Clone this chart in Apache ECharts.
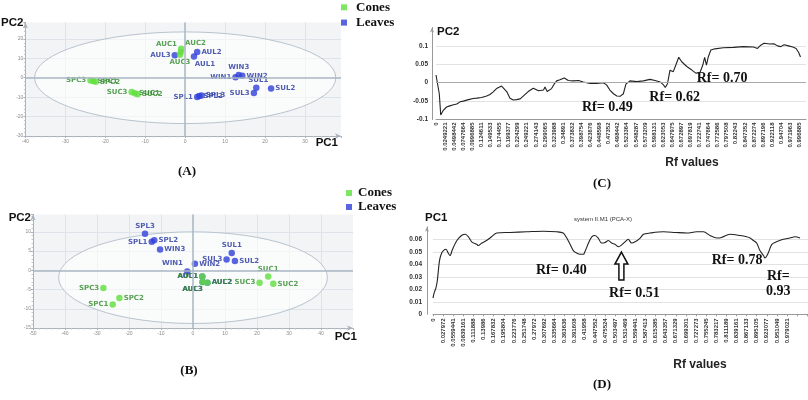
<!DOCTYPE html>
<html><head><meta charset="utf-8">
<script src="https://cdn.jsdelivr.net/npm/echarts@6/dist/echarts.min.js"></script>
<style>html,body{margin:0;padding:0;background:#fff}#c{width:808px;height:400px}</style>
</head><body><div id="c"></div>
<script>
// ---------- Panel A (PCA scores) ----------
const coneNamesA = ['AUC1','AUC2','AUC3','SPC1','SPC2','SPC3','SUC1','SUC2','SUC3'];
const conePC1A = [-1.0,-1.1,-1.3,-23.0,-22.4,-23.7,-12.6,-11.9,-13.4];
const conePC2A = [14.9,13.3,11.8,-1.7,-2.1,-1.4,-8.0,-8.5,-7.3];
const leafNamesA = ['AUL1','AUL2','AUL3','SPL1','SPL2','SPL3','SUL1','SUL2','SUL3','WIN1','WIN2','WIN3'];
const leafPC1A = [2.2,3.0,-2.6,3.0,3.5,4.1,17.8,21.5,17.2,12.6,14.3,13.4];
const leafPC2A = [10.9,13.2,11.6,-9.9,-9.4,-9.2,-5.1,-5.6,-7.9,0.2,1.0,1.4];
const ellipseA = [37.7, 23.6];

// ---------- Panel B (PCA scores) ----------
const coneNamesB = ['AUC1','AUC2','AUC3','SPC1','SPC2','SPC3','SUC1','SUC2','SUC3'];
const conePC1B = [2.9,4.5,3.0,-25.1,-23.0,-28.0,23.5,25.1,20.8];
const conePC2B = [-1.6,-3.2,-3.0,-8.9,-7.2,-4.6,-1.6,-3.5,-3.2];
const leafNamesB = ['AUL1','AUL2','AUL3','SPL1','SPL2','SPL3','SUL1','SUL2','SUL3','WIN1','WIN2','WIN3'];
const leafPC1B = [2.9,4.5,3.0,-12.9,-12.1,-15.0,12.1,13.1,10.5,-1.8,0.6,-10.3];
const leafPC2B = [-1.6,-3.2,-3.0,7.4,7.8,9.5,4.5,2.4,2.8,-0.3,1.7,5.4];
const ellipseB = [42, 11.9];
const ellipseCenterB = [0, -1.9];

// ---------- Panel C (PC2 loadings vs Rf) ----------
const rfC = [0,0.004,0.009,0.013,0.020,0.029,0.038,0.048,0.057,0.066,0.075,0.089,0.102,0.112,0.125,0.139,0.148,0.157,0.166,0.180,0.194,0.203,0.212,0.221,0.231,0.240,0.253,0.267,0.281,0.295,0.299,0.305,0.317,0.324,0.331,0.340,0.352,0.363,0.377,0.391,0.404,0.423,0.441,0.459,0.468,0.477,0.487,0.496,0.505,0.514,0.521,0.532,0.551,0.569,0.587,0.601,0.615,0.624,0.629,0.635,0.642,0.651,0.658,0.666,0.674,0.688,0.701,0.713,0.724,0.732,0.737,0.742,0.747,0.754,0.765,0.788,0.816,0.843,0.871,0.882,0.891,0.900,0.916,0.927,0.937,0.946,0.955,0.967,0.979,0.988,0.995,1.000];
const pc2C = [0.021,0.024,-0.03,-0.088,-0.075,-0.066,-0.063,-0.060,-0.058,-0.052,-0.050,-0.046,-0.043,-0.042,-0.040,-0.036,-0.032,-0.025,-0.016,-0.009,-0.024,-0.042,-0.047,-0.046,-0.044,-0.036,-0.024,-0.015,-0.022,-0.020,-0.012,-0.024,-0.016,-0.004,0.005,0.008,0.013,0.006,0.005,0.006,0.002,-0.002,-0.002,0.000,-0.006,-0.020,-0.030,-0.036,-0.037,-0.030,-0.004,0.005,0.003,0.005,0.009,0.006,0.002,-0.006,-0.013,-0.003,0.034,0.030,0.048,0.069,0.057,0.044,0.035,0.026,0.027,0.048,0.069,0.048,0.070,0.089,0.092,0.095,0.096,0.098,0.097,0.093,0.102,0.107,0.105,0.106,0.100,0.098,0.103,0.100,0.097,0.093,0.082,0.070];
const xTicksC = ['0','0.0249221','0.0498442','0.0747664','0.0996885','0.124611','0.149533','0.174455','0.199377','0.224299','0.249221','0.274143','0.299065','0.323988','0.34891','0.373832','0.398754','0.423676','0.448598','0.47352','0.498442','0.523364','0.548287','0.573209','0.598131','0.623053','0.647975','0.672897','0.697819','0.722741','0.747664','0.772586','0.797508','0.82243','0.847352','0.872274','0.897196','0.922118','0.94704','0.971963','0.996885'];
const notesC = [['Rf= 0.49',0.47,-0.068],['Rf= 0.62',0.655,-0.040],['Rf= 0.70',0.785,0.013]];

// ---------- Panel D (PC1 loadings vs Rf) ----------
const rfD = [0,0.003,0.008,0.012,0.018,0.024,0.029,0.036,0.042,0.047,0.054,0.066,0.079,0.089,0.098,0.107,0.121,0.125,0.135,0.148,0.162,0.176,0.213,0.259,0.305,0.342,0.360,0.370,0.379,0.388,0.397,0.407,0.416,0.420,0.430,0.439,0.448,0.457,0.466,0.476,0.485,0.494,0.503,0.513,0.522,0.531,0.540,0.549,0.559,0.573,0.582,0.600,0.637,0.670,0.702,0.729,0.748,0.766,0.785,0.798,0.821,0.849,0.867,0.877,0.886,0.895,0.904,0.914,0.918,0.927,0.937,0.950,0.969,0.987,1.001,1.015];
const pc1D = [0.013,0.017,0.021,0.027,0.043,0.049,0.051,0.052,0.049,0.047,0.052,0.059,0.063,0.064,0.062,0.058,0.056,0.055,0.057,0.059,0.062,0.065,0.0655,0.066,0.0665,0.066,0.065,0.061,0.056,0.051,0.049,0.048,0.048,0.050,0.057,0.062,0.063,0.061,0.057,0.0575,0.059,0.057,0.056,0.054,0.0555,0.058,0.060,0.057,0.058,0.061,0.064,0.065,0.066,0.0655,0.065,0.066,0.066,0.063,0.061,0.0615,0.064,0.063,0.062,0.061,0.059,0.057,0.051,0.047,0.045,0.049,0.056,0.058,0.060,0.061,0.062,0.061];
const xTicksD = ['0','0.027972','0.0559441','0.0839161','0.111888','0.13986','0.167832','0.195804','0.223776','0.251748','0.27972','0.307692','0.335664','0.363636','0.391608','0.41958','0.447552','0.475524','0.503497','0.531469','0.559441','0.587413','0.615385','0.643357','0.671329','0.699301','0.727273','0.755245','0.783217','0.811189','0.839161','0.867133','0.895105','0.923077','0.951049','0.979021'];
const notesD = [['Rf= 0.40',0.355,0.035],['Rf= 0.51',0.557,0.017],['Rf= 0.78',0.841,0.043],['Rf=\n0.93',0.955,0.024]];
const arrowD = [0.521, 0.0498];

// ---------- styles ----------
const GREEN = '#5fe03c', BLUE = '#3040d8';
const GREEN_TXT = '#2f8a2a', BLUE_TXT = '#2434a0';
const placeA = {AUC1:['left',[0,-5]],AUC2:['right',[0,-9]],AUC3:['bottom',[0,0]],SPC1:['right',[0,0]],SPC2:['right',[0,0]],SPC3:['left',[0,0]],SUC1:['right',[0,0]],SUC2:['right',[0,0]],SUC3:['left',[0,0]],
  AUL1:['bottom',[11,0]],AUL2:['right',[0,0]],AUL3:['left',[0,0]],SPL1:['left',[0,0]],SPL2:['right',[0,0]],SPL3:['right',[0,0]],SUL1:['top',[2,0]],SUL2:['right',[0,0]],SUL3:['left',[0,0]],WIN1:['left',[0,0]],WIN2:['right',[0,0]],WIN3:['top',[0,0]]};
const placeB = {AUC1:['left',[0,0]],AUC2:['right',[0,0]],AUC3:['bottom',[-10,0]],AUL1:['left',[0,0]],AUL2:['right',[0,0]],AUL3:['bottom',[-10,0]],SPC1:['left',[0,0]],SPC2:['right',[0,0]],SPC3:['left',[0,0]],SUC1:['top',[0,0]],SUC2:['right',[0,0]],SUC3:['left',[0,0]],
  SPL1:['left',[0,0]],SPL2:['right',[0,0]],SPL3:['top',[0,0]],SUL1:['top',[0,0]],SUL2:['right',[0,0]],SUL3:['left',[0,0]],WIN1:['left',[0,-8]],WIN2:['right',[0,0]],WIN3:['right',[0,0]]};

function pts(names, xs, ys, place, color) {
  return names.map((n, i) => ({
    name: n, value: [xs[i], ys[i]],
    label: {show: true, formatter: '{b}', position: place[n][0], offset: place[n][1], distance: 1,
      color: color, fontSize: 7, fontWeight: 'bold', fontFamily: 'DejaVu Sans'}
  }));
}
function ellipseSeries(idx, center, axes) {
  return {type: 'custom', xAxisIndex: idx, yAxisIndex: idx, silent: true, z: 1, clip: false,
    data: [center],
    renderItem: (p, api) => {
      const c = api.coord([api.value(0), api.value(1)]);
      const s = api.size([axes[0], axes[1]]);
      const rx = s[0], ry = s[1];
      return {type: 'path', shape: {pathData:
        `M${c[0]-rx} ${c[1]} A${rx} ${ry} 0 1 0 ${c[0]+rx} ${c[1]} A${rx} ${ry} 0 1 0 ${c[0]-rx} ${c[1]} Z`},
        style: {fill: 'rgba(255,255,255,0.6)', stroke: '#b8c4cf', lineWidth: 1}};
    }};
}
const zeroLines = {silent: true, symbol: 'none', label: {show: false},
  lineStyle: {color: '#a9b7c5', width: 1.5, type: 'solid'}, data: [{xAxis: 0}, {yAxis: 0}]};

function scoreX(idx, min, max) {
  return {gridIndex: idx, type: 'value', min, max, interval: 10,
    axisLine: {show: true, onZero: false, lineStyle: {color: '#aab3bd'}, symbol: ['none','arrow'], symbolSize: [4,6]},
    axisTick: {show: true, length: 2, lineStyle: {color: '#aab3bd'}},
    minorTick: {show: true, splitNumber: 5, length: 1.5, lineStyle: {color: '#c0c8d0'}},
    axisLabel: {fontSize: 5, color: '#8a8a8a', margin: 3, showMaxLabel: false},
    splitLine: {show: true, showMaxLine: false, lineStyle: {color: '#dde3e9'}}};
}
function scoreY(idx, min, max, interval, gap) {
  return {gridIndex: idx, type: 'value', min, max, interval,
    name: 'PC2', nameLocation: 'end', nameGap: gap,
    nameTextStyle: {fontFamily: 'Liberation Sans', fontWeight: 'bold', fontSize: 11.5, color: '#111', align: 'right', verticalAlign: 'middle', padding: [0,2,0,0]},
    axisLine: {show: true, onZero: false, lineStyle: {color: '#aab3bd'}, symbol: ['none','arrow'], symbolSize: [4,6]},
    axisTick: {show: true, length: 2, lineStyle: {color: '#aab3bd'}},
    minorTick: {show: true, splitNumber: 5, length: 1.5, lineStyle: {color: '#c0c8d0'}},
    axisLabel: {fontSize: 5, color: '#8a8a8a', margin: 2, showMaxLabel: false},
    splitLine: {show: true, showMaxLine: false, lineStyle: {color: '#dde3e9'}}};
}
function tickFmt(list) {
  const step = Number(list[1]);
  return v => { const i = Math.round(v / step); return (Math.abs(v - i * step) < 1e-6 && list[i] !== undefined) ? list[i] : ''; };
}
const pcName = {fontFamily: 'Liberation Sans', fontWeight: 'bold', fontSize: 11.5, color: '#111'};

const chart = echarts.init(document.getElementById('c'), null, {renderer: 'canvas'});
const option = {
  animation: false,
  backgroundColor: '#fff',
  grid: [
    {left: 25, top: 22.4, width: 316, height: 113.6, show: true, backgroundColor: '#f2f4f6', borderWidth: 0},
    {left: 33, top: 214.5, width: 320, height: 113.6, show: true, backgroundColor: '#f2f4f6', borderWidth: 0},
    {left: 436, top: 27.5, width: 370, height: 92, show: false},
    {left: 433, top: 226.8, width: 375, height: 87.5, show: false}
  ],
  legend: [
    {data: ['Cones','Leaves'], left: 341, top: 0.8, padding: 0, orient: 'vertical', icon: 'rect', itemWidth: 6, itemHeight: 6, itemGap: 2.3,
      textStyle: {fontFamily: 'Liberation Serif', fontWeight: 'bold', fontSize: 13, color: '#111', padding: [0,0,0,4]}},
    {data: ['Cones','Leaves'], left: 346, top: 186.5, padding: 0, orient: 'vertical', icon: 'rect', itemWidth: 6, itemHeight: 6, itemGap: 1,
      textStyle: {fontFamily: 'Liberation Serif', fontWeight: 'bold', fontSize: 13, color: '#111', padding: [0,0,0,1]}}
  ],
  xAxis: [
    Object.assign(scoreX(0, -40, 39), {name: 'PC1', nameLocation: 'end', nameGap: -3,
      nameTextStyle: Object.assign({align: 'right', verticalAlign: 'top', padding: [1,0,0,0]}, pcName)}),
    Object.assign(scoreX(1, -50, 50), {name: 'PC1', nameLocation: 'end', nameGap: 4,
      nameTextStyle: Object.assign({align: 'right', verticalAlign: 'top', padding: [3,0,0,0]}, pcName)}),
    {gridIndex: 2, type: 'value', min: 0, max: 1.0151, interval: Number(xTicksC[1]),
      axisLine: {show: true, onZero: false, lineStyle: {color: '#999'}},
      axisTick: {show: false}, splitLine: {show: false},
      axisLabel: {rotate: 90, fontSize: 6, fontWeight: 'bold', color: '#333', margin: 3, formatter: tickFmt(xTicksC), showMaxLabel: true}},
    {gridIndex: 3, type: 'value', min: 0, max: 1.037, interval: Number(xTicksD[1]),
      axisLine: {show: true, onZero: false, lineStyle: {color: '#999'}},
      axisTick: {show: true, length: 2, lineStyle: {color: '#999'}}, splitLine: {show: false},
      axisLabel: {rotate: 90, fontSize: 6, fontWeight: 'bold', color: '#333', margin: 4, formatter: tickFmt(xTicksD)}}
  ],
  yAxis: [
    scoreY(0, -30, 28.5, 10, -0.6),
    scoreY(1, -15, 14.5, 5, -3.5),
    {gridIndex: 2, type: 'value', min: -0.1, max: 0.15, interval: 0.05, offset: 4,
      name: 'PC2', nameLocation: 'end', nameGap: -4.5,
      nameTextStyle: Object.assign({align: 'left', verticalAlign: 'middle', padding: [0,0,0,5]}, pcName),
      axisLine: {show: true, onZero: false, lineStyle: {color: '#999'}, symbol: ['none','arrow'], symbolSize: [3,5]},
      axisTick: {show: false},
      axisLabel: {fontSize: 6.5, fontWeight: 'bold', color: '#333', margin: 4, showMaxLabel: false},
      splitLine: {show: true, showMaxLine: false, lineStyle: {color: '#e2e2e2'}}},
    {gridIndex: 3, type: 'value', min: 0, max: 0.07, interval: 0.01, offset: 6,
      name: 'PC1', nameLocation: 'end', nameGap: 8.8,
      nameTextStyle: Object.assign({align: 'left', verticalAlign: 'middle', padding: [0,0,0,-2]}, pcName),
      axisLine: {show: true, onZero: false, lineStyle: {color: '#999'}, symbol: ['none','arrow'], symbolSize: [3,5]},
      axisTick: {show: false},
      axisLabel: {fontSize: 6.5, fontWeight: 'bold', color: '#333', margin: 5, showMaxLabel: false},
      splitLine: {show: true, showMaxLine: false, lineStyle: {color: '#e2e2e2'}}}
  ],
  series: [
    ellipseSeries(0, [0, 0], ellipseA),
    {name: 'Leaves', type: 'scatter', xAxisIndex: 0, yAxisIndex: 0, symbolSize: 6.5, z: 3,
      itemStyle: {color: BLUE}, data: pts(leafNamesA, leafPC1A, leafPC2A, placeA, BLUE_TXT), markLine: zeroLines},
    {name: 'Cones', type: 'scatter', xAxisIndex: 0, yAxisIndex: 0, symbolSize: 6.5, z: 4,
      itemStyle: {color: GREEN}, data: pts(coneNamesA, conePC1A, conePC2A, placeA, GREEN_TXT)},
    ellipseSeries(1, ellipseCenterB, ellipseB),
    {name: 'Leaves', type: 'scatter', xAxisIndex: 1, yAxisIndex: 1, symbolSize: 6.5, z: 3,
      itemStyle: {color: BLUE}, data: pts(leafNamesB, leafPC1B, leafPC2B, placeB, BLUE_TXT), markLine: zeroLines},
    {name: 'Cones', type: 'scatter', xAxisIndex: 1, yAxisIndex: 1, symbolSize: 6.5, z: 4,
      itemStyle: {color: GREEN}, data: pts(coneNamesB, conePC1B, conePC2B, placeB, GREEN_TXT)},
    {name: 'PC2 loading', type: 'line', xAxisIndex: 2, yAxisIndex: 2, showSymbol: false, smooth: false,
      lineStyle: {color: '#222', width: 1.1}, data: rfC.map((x, i) => [x, pc2C[i]]),
      markLine: {silent: true, symbol: 'none', label: {show: false}, lineStyle: {color: '#aaa', width: 1, type: 'solid'}, data: [{yAxis: 0}]}},
    {name: 'PC1 loading', type: 'line', xAxisIndex: 3, yAxisIndex: 3, showSymbol: false, smooth: 0.3,
      lineStyle: {color: '#222', width: 1.1}, data: rfD.map((x, i) => [x, pc1D[i]])}
  ]
};
chart.setOption(option);

// annotations anchored to data coordinates
const serif = {fontFamily: 'Liberation Serif', fontWeight: 'bold', fill: '#111'};
const g = [];
notesC.forEach(n => {
  const p = chart.convertToPixel({gridIndex: 2}, [n[1], n[2]]);
  g.push({type: 'text', silent: true, style: Object.assign({text: n[0], x: p[0], y: p[1], align: 'center', verticalAlign: 'middle', fontSize: 14, lineHeight: 15}, serif)});
});
notesD.forEach(n => {
  const p = chart.convertToPixel({gridIndex: 3}, [n[1], n[2]]);
  g.push({type: 'text', silent: true, style: Object.assign({text: n[0], x: p[0], y: p[1], align: 'center', verticalAlign: 'middle', fontSize: 14, lineHeight: 15}, serif)});
});
const tip = chart.convertToPixel({gridIndex: 3}, arrowD);
g.push({type: 'polygon', silent: true, x: tip[0], y: tip[1],
  shape: {points: [[0,0],[6.5,12],[2.5,12],[2.5,28],[-2.5,28],[-2.5,12],[-6.5,12]]},
  style: {fill: '#fff', stroke: '#111', lineWidth: 1.5}});
// panel letters and axis captions
[['(A)',187,172],['(B)',189,371],['(C)',602,184],['(D)',602,385]].forEach(t => {
  g.push({type: 'text', silent: true, style: Object.assign({text: t[0], x: t[1], y: t[2], align: 'center', verticalAlign: 'middle', fontSize: 13}, serif)});
});
[['Rf values',692,163],['Rf values',700,365]].forEach(t => {
  g.push({type: 'text', silent: true, style: {text: t[0], x: t[1], y: t[2], align: 'center', verticalAlign: 'middle', fontSize: 12, fontWeight: 'bold', fontFamily: 'Liberation Sans', fill: '#222'}});
});
g.push({type: 'text', silent: true, style: {text: 'system II.M1 (PCA-X)', x: 603, y: 219, align: 'center', verticalAlign: 'middle', fontSize: 6, fontFamily: 'Liberation Sans', fill: '#333'}});
chart.setOption({graphic: g});
</script>
</body></html>
